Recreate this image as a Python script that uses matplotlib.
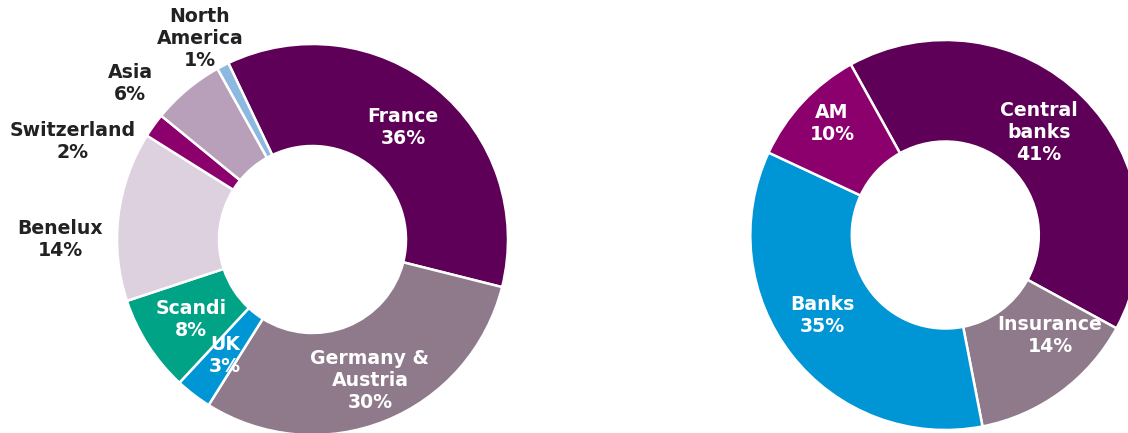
import matplotlib
matplotlib.use("Agg")
import matplotlib.pyplot as plt

# left donut - by region
regions = ["France", "Germany &\nAustria", "UK", "Scandi", "Benelux", "Switzerland", "Asia", "North\nAmerica"]
region_pct = [36, 30, 3, 8, 14, 2, 6, 1]
region_colors = ["#5E0058", "#8F7A8C", "#0096D6", "#00A386", "#DDD0DF", "#8C006E", "#B9A0BA", "#8DB8E0"]
region_txt = ["white", "white", "white", "white", "#222222", "#222222", "#222222", "#222222"]
# label centres, pixel coords (x, y from top)
region_pos = [(403, 127), (370, 380), (225, 355), (191, 320), (60, 240), (73, 141), (130, 83), (200, 38)]

# right donut - by investor type
investors = ["Central\nbanks", "Insurance", "Banks", "AM"]
investor_pct = [41, 14, 35, 10]
investor_colors = ["#5E0058", "#8F7A8C", "#0096D6", "#8C006E"]
investor_pos = [(1039, 132), (1050, 335), (822, 315), (832, 124)]

W, H = 1128, 433
fig = plt.figure(figsize=(W / 100, H / 100), dpi=100)
ax = fig.add_axes([0, 0, 1, 1])

wp = dict(edgecolor="white", linewidth=1.8)

ax.pie(region_pct, colors=region_colors, startangle=115.5, counterclock=False,
       center=(312.5, H - 239.5), radius=195.5, wedgeprops=dict(width=102, **wp),
       frame=True)
ax.pie(investor_pct, colors=investor_colors, startangle=119, counterclock=False,
       center=(945.3, H - 235), radius=195, wedgeprops=dict(width=101.5, **wp),
       frame=True)
ax.set_xlim(0, W)
ax.set_ylim(0, H)
ax.set_aspect("equal")
ax.axis("off")

fs = 13.6
for name, p, c, (x, y) in zip(regions, region_pct, region_txt, region_pos):
    ax.text(x, H - y, f"{name}\n{p}%", ha="center", va="center", color=c,
            fontsize=fs, fontweight="bold", linespacing=1.2)

for name, p, (x, y) in zip(investors, investor_pct, investor_pos):
    ax.text(x, H - y, f"{name}\n{p}%", ha="center", va="center", color="white",
            fontsize=fs, fontweight="bold", linespacing=1.2)

plt.savefig("out.png", dpi=100)
